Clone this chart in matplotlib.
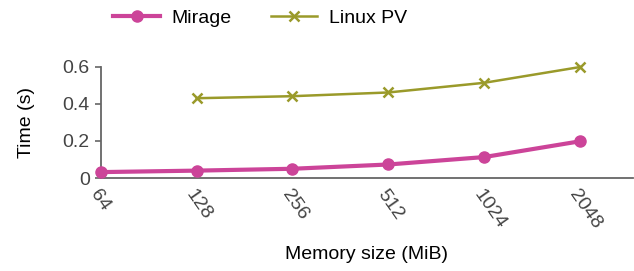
import matplotlib
matplotlib.use("Agg")
import matplotlib.pyplot as plt

plt.rcParams['font.family'] = ['Liberation Sans', 'DejaVu Sans']

sizes = ["64", "128", "256", "512", "1024", "2048"]
mirage = [0.032, 0.040, 0.050, 0.073, 0.113, 0.198]
linux_sizes = ["128", "256", "512", "1024", "2048"]
linux_pv = [0.430, 0.441, 0.461, 0.513, 0.598]

xpos = {s: i for i, s in enumerate(sizes)}

fig = plt.figure(figsize=(6.34, 2.71), dpi=100)
ax = fig.add_axes([0.159, 0.343, 0.839, 0.411])

ax.plot([xpos[s] for s in sizes], mirage, color='#cc4499', lw=3, marker='o',
        markersize=8, label='Mirage', clip_on=False, zorder=3)
ax.plot([xpos[s] for s in linux_sizes], linux_pv, color='#9a9a2a', lw=1.8, marker='x',
        markersize=7, markeredgewidth=1.8, label='Linux PV', clip_on=False, zorder=3)

ax.set_xlim(0, 5.55)
ax.set_ylim(0, 0.6)
ax.set_yticks([0, 0.2, 0.4, 0.6])
ax.set_yticklabels(['0', '0.2', '0.4', '0.6'])
ax.set_xticks(range(len(sizes)))
ax.set_xticklabels(sizes, rotation=-55, ha='left', rotation_mode='anchor')

for side in ['top', 'right']:
    ax.spines[side].set_visible(False)
for side in ['left', 'bottom']:
    ax.spines[side].set_color('#666666')
    ax.spines[side].set_linewidth(1.3)

fs = 14
ax.tick_params(axis='y', colors='#666666', labelcolor='#444444', labelsize=fs, length=4, width=1.2, pad=4)
ax.tick_params(axis='x', length=0, labelcolor='#444444', labelsize=fs, pad=6)

ax.set_ylabel('Time (s)', fontsize=fs, labelpad=20)
ax.set_xlabel('Memory size (MiB)', fontsize=fs, labelpad=10)

fig.legend(loc='upper left', bbox_to_anchor=(0.151, 1.03), ncol=2, frameon=False,
           fontsize=fs, handlelength=2.4, columnspacing=2.0, handletextpad=0.6)

fig.savefig('out.png', dpi=100)
